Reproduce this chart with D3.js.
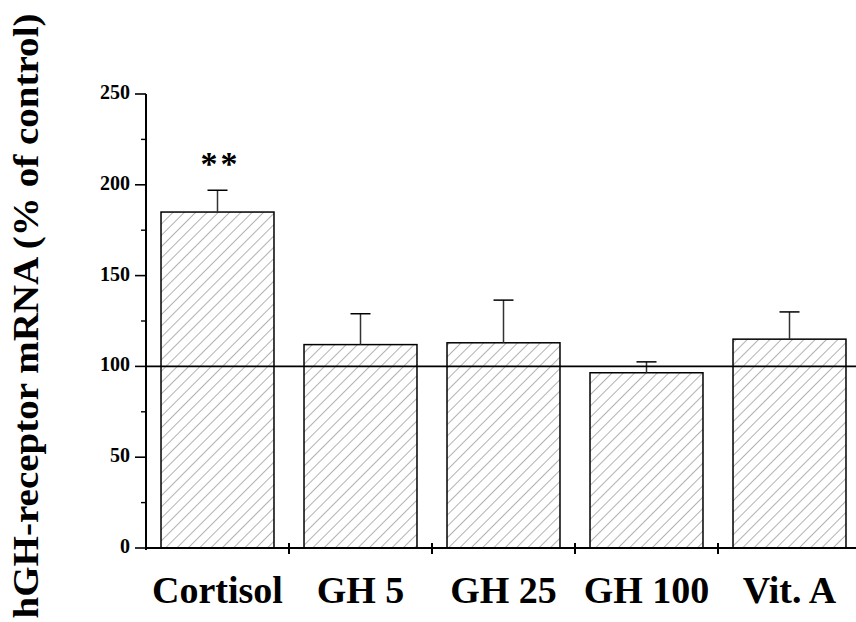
<!DOCTYPE html>
<html><head><meta charset="utf-8">
<script src="https://cdn.jsdelivr.net/npm/d3@7"></script>
<style>body{margin:0;background:#fff}svg{display:block}</style>
</head><body><svg id="c" width="856" height="622"></svg>
<script>
const categories = ["Cortisol", "GH 5", "GH 25", "GH 100", "Vit. A"];
const values = [185, 112, 113, 96.5, 115];
const errors = [12, 17, 23.5, 6, 15];
const yTicks = [0, 50, 100, 150, 200, 250];
const yMinorTicks = [25, 75, 125, 175, 225];
const significance = ["**", "", "", "", ""];
const controlLevel = 100;
const yTitle = "hGH-receptor mRNA (% of control)";

const svg = d3.select("#c");
const font = "'Liberation Serif','Times New Roman',serif";
const x = d3.scaleBand().domain(categories).range([146, 861]).paddingInner(0.21).paddingOuter(0.105);
const xb = d3.scaleBand().domain(categories).range([146, 861]);
const y = d3.scaleLinear().domain([0, 250]).range([548, 94]);

const defs = svg.append("defs");
const pat = defs.append("pattern").attr("id", "hatch").attr("patternUnits", "userSpaceOnUse")
  .attr("width", 8).attr("height", 8).attr("patternTransform", "rotate(45)");
pat.append("line").attr("x1", 0).attr("y1", 0).attr("x2", 0).attr("y2", 8)
  .attr("stroke", "#555").attr("stroke-width", 0.9);

// bars
svg.append("g").selectAll("rect").data(categories).join("rect")
  .attr("x", d => x(d)).attr("width", x.bandwidth())
  .attr("y", (d, i) => y(values[i])).attr("height", (d, i) => y(0) - y(values[i]))
  .attr("fill", "url(#hatch)").attr("stroke", "#000").attr("stroke-width", 1.5);

// error bars
const eb = svg.append("g").attr("stroke", "#333").attr("stroke-width", 1.5);
categories.forEach((c, i) => {
  const cx = x(c) + x.bandwidth() / 2;
  eb.append("line").attr("x1", cx).attr("x2", cx).attr("y1", y(values[i])).attr("y2", y(values[i] + errors[i]));
  eb.append("line").attr("x1", cx - 10).attr("x2", cx + 10).attr("y1", y(values[i] + errors[i])).attr("y2", y(values[i] + errors[i])).attr("stroke", "#000");
});

// significance
svg.append("g").selectAll("text").data(categories).join("text")
  .attr("x", d => x(d) + x.bandwidth() / 2 + 3).attr("y", (d, i) => y(values[i] + errors[i]) - 15)
  .attr("text-anchor", "middle").attr("font-family", font).attr("font-weight", "bold")
  .attr("font-size", 34).attr("letter-spacing", 3).text((d, i) => significance[i]);

// control line
svg.append("line").attr("x1", 146).attr("x2", 856).attr("y1", y(controlLevel)).attr("y2", y(controlLevel))
  .attr("stroke", "#000").attr("stroke-width", 1.6);

// y axis
const yAxis = svg.append("g").attr("transform", "translate(146,0)");
yAxis.append("line").attr("x1", 0).attr("x2", 0).attr("y1", y(250)).attr("y2", y(0) + 2).attr("stroke", "#000").attr("stroke-width", 2);
yAxis.selectAll(".maj").data(yTicks).join("line").attr("class", "maj")
  .attr("x1", -11).attr("x2", 0).attr("y1", d => y(d)).attr("y2", d => y(d)).attr("stroke", "#000").attr("stroke-width", 1.6);
yAxis.selectAll(".min").data(yMinorTicks).join("line").attr("class", "min")
  .attr("x1", -5).attr("x2", 0).attr("y1", d => y(d)).attr("y2", d => y(d)).attr("stroke", "#000").attr("stroke-width", 1.4);
yAxis.selectAll("text").data(yTicks).join("text")
  .attr("x", -16).attr("y", d => y(d) - 2).attr("dy", "0.35em").attr("text-anchor", "end")
  .attr("font-family", font).attr("font-weight", "bold").attr("font-size", 20).text(d => d);

// x axis
const xAxis = svg.append("g");
xAxis.append("line").attr("x1", 146).attr("x2", 856).attr("y1", y(0)).attr("y2", y(0)).attr("stroke", "#000").attr("stroke-width", 2);
xAxis.selectAll(".tk").data(categories.slice(1)).join("line").attr("class", "tk")
  .attr("x1", d => xb(d)).attr("x2", d => xb(d)).attr("y1", y(0) - 5).attr("y2", y(0) + 6)
  .attr("stroke", "#000").attr("stroke-width", 2);
xAxis.selectAll("text").data(categories).join("text")
  .attr("x", d => xb(d) + xb.bandwidth() / 2).attr("y", 603).attr("text-anchor", "middle")
  .attr("font-family", font).attr("font-weight", "bold").attr("font-size", 38).text(d => d);

// y title
svg.append("text").attr("transform", "translate(38,316) rotate(-90)").attr("text-anchor", "middle")
  .attr("font-family", font).attr("font-weight", "bold").attr("font-size", 36)
  .attr("textLength", 605).attr("lengthAdjust", "spacingAndGlyphs").text(yTitle);
</script></body></html>
